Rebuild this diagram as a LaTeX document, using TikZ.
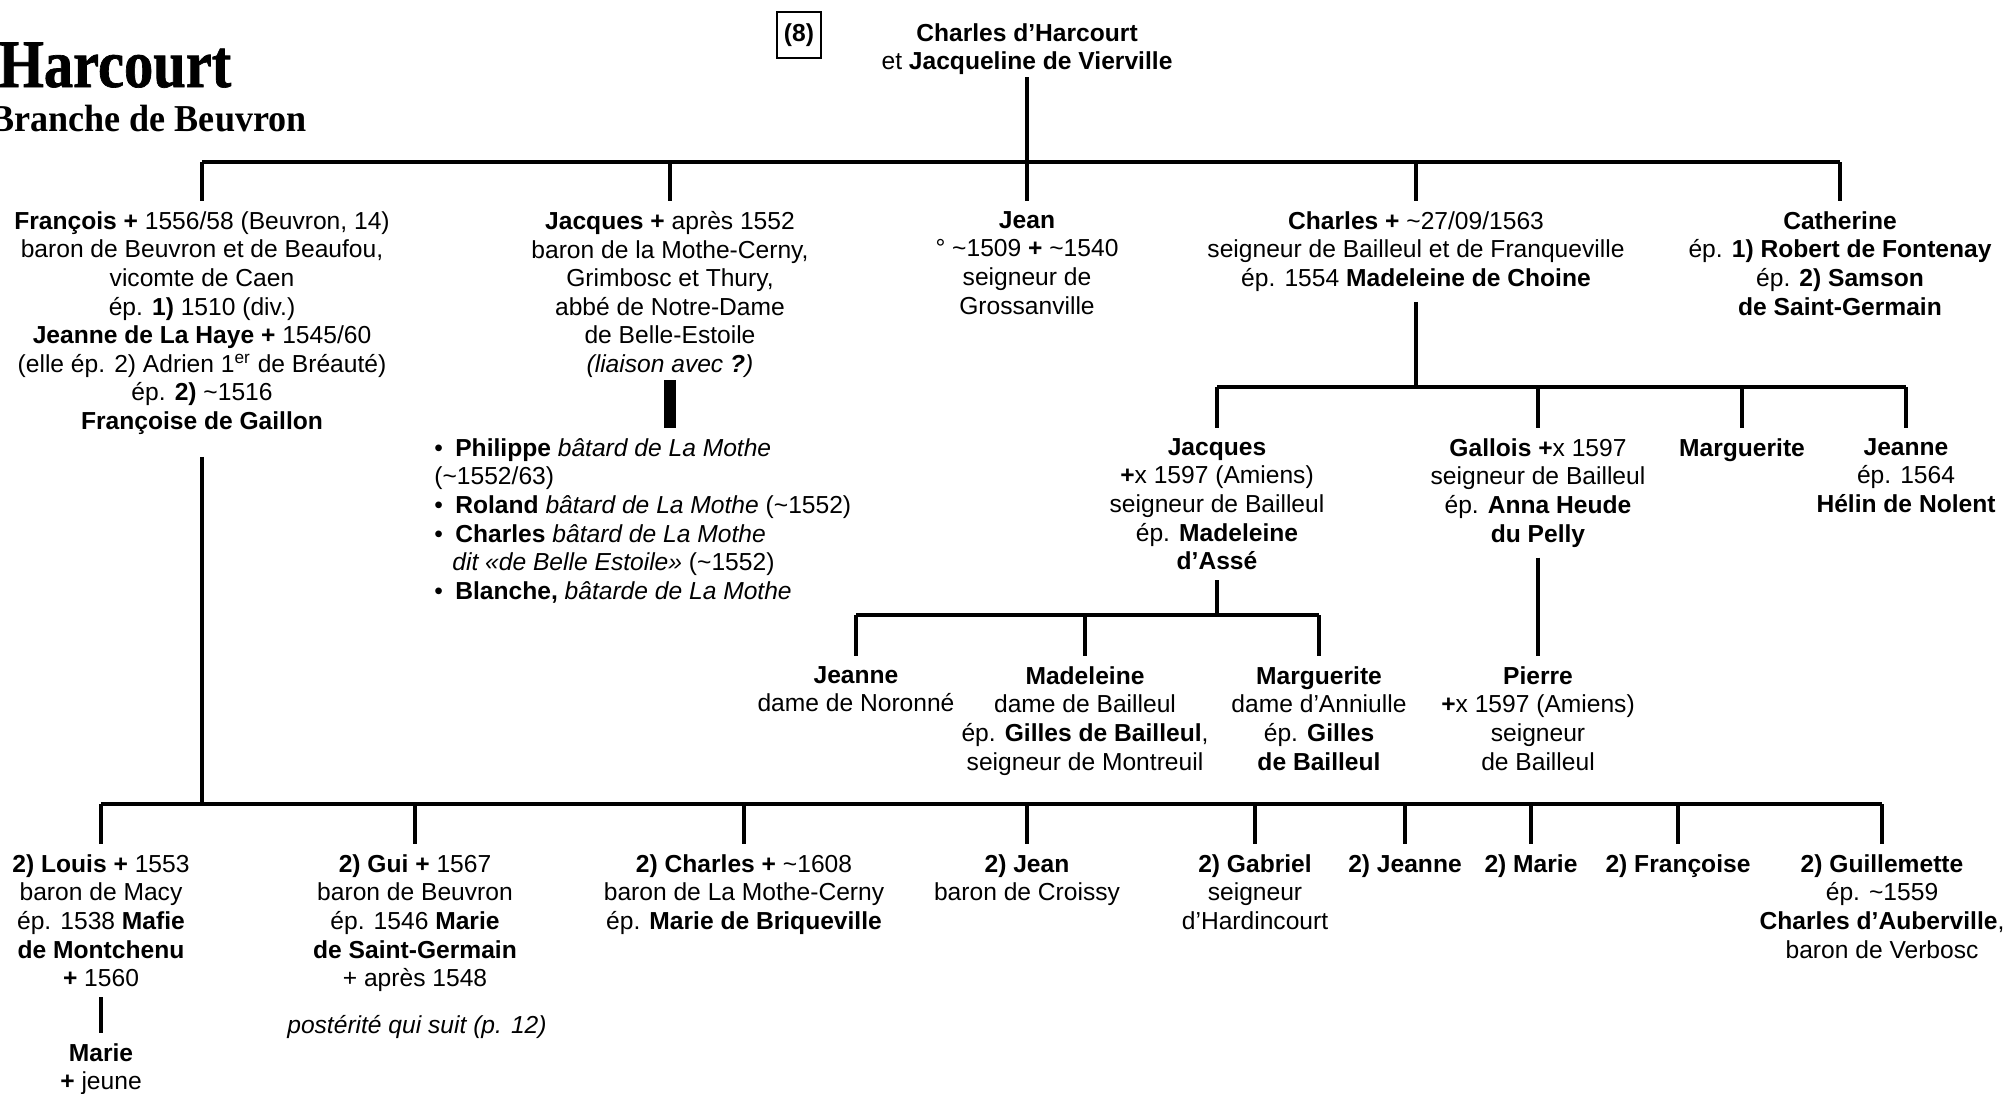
\documentclass[tikz,border=0pt]{standalone}
\usepackage{fontspec}
\setmainfont{Liberation Sans}
\newfontfamily\titlefont[FakeStretch=0.86,FakeBold=1]{Liberation Serif}
\newfontfamily\subtitlefont[FakeStretch=0.95]{Liberation Serif}
\newcommand{\txt}{\fontsize{12.3}{14.3}\selectfont}
\newcommand{\ca}{\textasciitilde}
\newcommand{\dc}{\textbf{+}}

\begin{document}
\begin{tikzpicture}[x=0.5pt,y=-0.5pt,
    pers/.style={align=center,anchor=north,inner xsep=2pt,inner ysep=5pt,font=\txt},
    lien/.style={line width=1.6pt}]
\useasboundingbox (0,0) rectangle (2007,1093);
% titre
\node[anchor=base west,inner sep=0pt,font=\titlefont\bfseries\fontsize{34}{34}\selectfont] (titre) at (-2,87) {Harcourt};
\node[anchor=base west,inner sep=0pt,font=\subtitlefont\bfseries\fontsize{19}{19}\selectfont] (branche) at (-10,131) {Branche de Beuvron};
\node[draw,line width=0.6pt,minimum width=22pt,minimum height=23pt,inner sep=0pt,font=\txt\bfseries] (num) at (799,35) {(8)};
\node[pers] (parents) at (1027,13) {\textbf{Charles d’Harcourt}\\ et \textbf{Jacqueline de Vierville}};
% generation 1
\coordinate (b1) at (0,162);
\node[pers] (francois) at (202,201) {\textbf{François} \dc{} 1556/58 (Beuvron, 14)\\
    baron de Beuvron et de Beaufou,\\ vicomte de Caen\\ ép. \textbf{1)} 1510 (div.)\\
    \textbf{Jeanne de La Haye} \dc{} 1545/60\\ (elle ép. 2) Adrien 1\textsuperscript{er} de Bréauté)\\
    ép. \textbf{2)} \ca1516\\ \textbf{Françoise de Gaillon}};
\node[pers] (jacques) at (670,201) {\textbf{Jacques} \dc{} après 1552\\ baron de la Mothe-Cerny,\\
    Grimbosc et Thury,\\ abbé de Notre-Dame\\ de Belle-Estoile\\ \textit{(liaison avec \textbf{?})}};
\node[pers] (jean) at (1027,201) {\textbf{Jean}\\ ° \ca1509 \dc{} \ca1540\\ seigneur de\\ Grossanville};
\node[pers] (charles) at (1416,201) {\textbf{Charles} \dc{} \ca27/09/1563\\
    seigneur de Bailleul et de Franqueville\\ ép. 1554 \textbf{Madeleine de Choine}};
\node[pers] (catherine) at (1840,201) {\textbf{Catherine}\\ ép. \textbf{1) Robert de Fontenay}\\
    ép. \textbf{2) Samson}\\ \textbf{de Saint-Germain}};
\draw[lien] ([yshift=4pt]parents.south) -- (parents.south |- b1);
\draw[lien] (francois.north |- b1) -- (catherine.north |- b1);
\foreach \n in {francois,jacques,jean,charles,catherine}
    \draw[lien] (\n.north |- b1) -- (\n.north);
% batards de Jacques
\node[pers,align=left,anchor=north west] (batards) at (430,428) {%
    •\enspace\textbf{Philippe} \textit{bâtard de La Mothe}\\ (\ca1552/63)\\
    •\enspace\textbf{Roland} \textit{bâtard de La Mothe} (\ca1552)\\
    •\enspace\textbf{Charles} \textit{bâtard de La Mothe}\\
    \hspace*{9pt}\textit{dit «de Belle Estoile»} (\ca1552)\\
    •\enspace\textbf{Blanche,} \textit{bâtarde de La Mothe}};
\draw[line width=6pt] ([yshift=4pt]jacques.south) -- (jacques.south |- batards.north);
% enfants de Charles
\coordinate (b2) at (0,387);
\node[pers] (cjacques) at (1217,428) {\textbf{Jacques}\\ \textbf{+}x 1597 (Amiens)\\
    seigneur de Bailleul\\ ép. \textbf{Madeleine}\\ \textbf{d’Assé}};
\node[pers] (gallois) at (1538,428) {\textbf{Gallois} \textbf{+}x 1597\\ seigneur de Bailleul\\
    ép. \textbf{Anna Heude}\\ \textbf{du Pelly}};
\node[pers] (cmarguerite) at (1742,428) {\textbf{Marguerite}};
\node[pers] (cjeanne) at (1906,428) {\textbf{Jeanne}\\ ép. 1564\\ \textbf{Hélin de Nolent}};
\draw[lien] (charles.south) -- (charles.south |- b2);
\draw[lien] (cjacques.north |- b2) -- (cjeanne.north |- b2);
\foreach \n in {cjacques,gallois,cmarguerite,cjeanne}
    \draw[lien] (\n.north |- b2) -- (\n.north);
% enfants de Jacques et de Gallois
\coordinate (b3) at (0,615);
\node[pers] (gjeanne) at (856,656) {\textbf{Jeanne}\\ dame de Noronné};
\node[pers] (gmadeleine) at (1085,656) {\textbf{Madeleine}\\ dame de Bailleul\\
    ép. \textbf{Gilles de Bailleul},\\ seigneur de Montreuil};
\node[pers] (gmarguerite) at (1319,656) {\textbf{Marguerite}\\ dame d’Anniulle\\
    ép. \textbf{Gilles}\\ \textbf{de Bailleul}};
\node[pers] (pierre) at (1538,656) {\textbf{Pierre}\\ \textbf{+}x 1597 (Amiens)\\ seigneur\\ de Bailleul};
\draw[lien] (cjacques.south) -- (cjacques.south |- b3);
\draw[lien] (gjeanne.north |- b3) -- (gmarguerite.north |- b3);
\foreach \n in {gjeanne,gmadeleine,gmarguerite}
    \draw[lien] (\n.north |- b3) -- (\n.north);
\draw[lien] (gallois.south) -- (pierre.north);
% enfants de Francois
\coordinate (b4) at (0,804);
\node[pers] (louis) at (101,844) {\textbf{2) Louis} \dc{} 1553\\ baron de Macy\\
    ép. 1538 \textbf{Mafie}\\ \textbf{de Montchenu}\\ \dc{} 1560};
\node[pers] (lmarie) at (101,1033) {\textbf{Marie}\\ \dc{} jeune};
\node[pers] (gui) at (415,844) {\textbf{2) Gui} \dc{} 1567\\ baron de Beuvron\\
    ép. 1546 \textbf{Marie}\\ \textbf{de Saint-Germain}\\ + après 1548};
\node[pers,anchor=center] (suite) at (417,1027) {\textit{postérité qui suit (p. 12)}};
\node[pers] (fcharles) at (744,844) {\textbf{2) Charles} \dc{} \ca1608\\
    baron de La Mothe-Cerny\\ ép. \textbf{Marie de Briqueville}};
\node[pers] (fjean) at (1027,844) {\textbf{2) Jean}\\ baron de Croissy};
\node[pers] (gabriel) at (1255,844) {\textbf{2) Gabriel}\\ seigneur\\ d’Hardincourt};
\node[pers] (fjeanne) at (1405,844) {\textbf{2) Jeanne}};
\node[pers] (fmarie) at (1531,844) {\textbf{2) Marie}};
\node[pers] (francoise) at (1678,844) {\textbf{2) Françoise}};
\node[pers] (guillemette) at (1882,844) {\textbf{2) Guillemette}\\ ép. \ca1559\\
    \textbf{Charles d’Auberville},\\ baron de Verbosc};
\draw[lien] ([yshift=-6pt]francois.south) -- (francois.south |- b4);
\draw[lien] (louis.north |- b4) -- (guillemette.north |- b4);
\foreach \n in {louis,gui,fcharles,fjean,gabriel,fjeanne,fmarie,francoise,guillemette}
    \draw[lien] (\n.north |- b4) -- (\n.north);
\draw[lien] (louis.south) -- (lmarie.north);
\end{tikzpicture}
\end{document}
